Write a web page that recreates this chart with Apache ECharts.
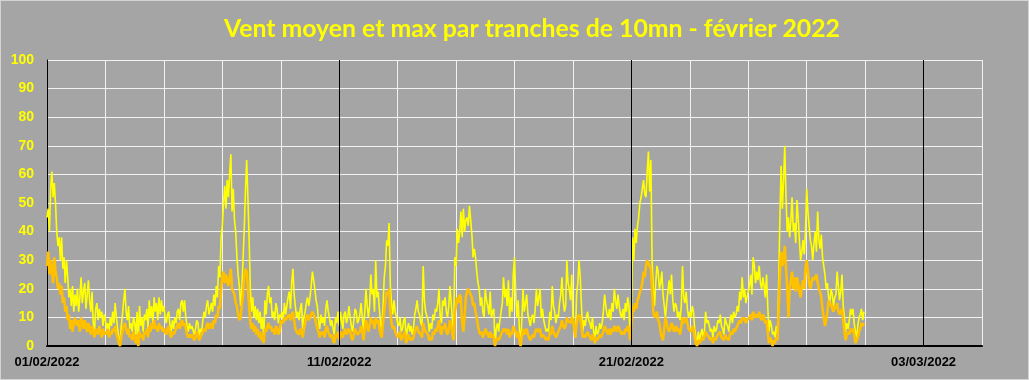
<!DOCTYPE html>
<html><head><meta charset="utf-8">
<script src="https://cdn.jsdelivr.net/npm/echarts@6/dist/echarts.min.js"></script>
<style>
html,body{margin:0;padding:0;background:#a5a5a5;}
#c{width:1029px;height:380px;box-sizing:border-box;border:1px solid #d4d4d4;}
</style></head><body><div id="c"></div>
<script>
// Title and axes
const chartTitle = 'Vent moyen et max par tranches de 10mn - février 2022';
const startYear = 2022, startMonth = 1, startDay = 1; // 01/02/2022
const xLabelDays = [0, 10, 20, 30];
const yTicks = [0,10,20,30,40,50,60,70,80,90,100];
const pointsPerDay = 24;

// Vent max (one row per day, hourly)
const maxWind = [
45,48,40,55,61,52,57,50,40,35,38,30,38,27,31,22,30,24,17,20,14,21,12,18,
14,20,12,17,24,15,19,22,13,18,23,16,12,19,8,5,13,15,9,13,10,12,7,11,
9,6,8,5,10,7,12,8,15,10,6,3,0,7,11,16,20,12,9,14,6,8,5,10,
8,4,12,2,14,7,10,5,11,9,13,6,16,10,14,8,17,12,15,9,17,11,16,12,
14,10,8,11,12,7,5,9,6,10,8,12,13,9,15,16,12,16,10,7,5,8,6,7,
7,4,6,9,8,3,6,5,9,12,10,14,16,11,13,15,12,18,14,21,17,28,24,38,
42,50,56,48,58,52,60,67,47,55,44,40,31,25,21,14,20,30,41,54,65,52,38,20,
12,17,10,14,9,13,8,12,6,10,2,16,11,18,21,15,17,10,12,9,15,13,8,11,
10,12,9,15,11,14,17,19,13,22,27,18,14,10,12,9,13,15,6,10,12,15,17,14,
17,21,26,23,20,16,14,9,6,11,8,10,7,13,16,12,10,7,9,6,4,10,8,12,
7,12,9,6,11,12,8,10,14,10,7,5,9,13,12,8,9,11,15,10,5,12,20,14,
10,14,25,18,20,12,30,17,19,13,8,5,14,24,28,37,35,43,21,15,11,16,12,10,
8,7,10,5,6,9,10,2,6,8,5,7,4,6,11,13,16,12,11,8,7,28,16,12,
12,9,5,8,6,11,9,13,12,15,20,10,8,16,14,17,12,10,14,21,15,9,5,31,
28,41,36,40,47,38,48,40,44,45,42,49,44,39,31,34,31,26,22,20,14,17,12,10,
20,16,14,11,19,10,12,13,0,6,8,5,9,12,15,24,17,20,14,23,10,17,12,25,
31,18,10,16,6,0,9,20,12,15,18,11,9,7,10,11,8,13,20,14,17,20,10,13,
9,7,5,6,5,12,9,21,14,12,8,11,10,15,18,24,16,12,14,30,22,20,16,25,
10,6,3,18,22,30,24,14,5,9,7,10,12,9,8,6,10,5,3,7,4,5,8,6,
8,12,18,14,11,10,13,9,15,12,20,16,13,18,14,11,10,13,9,15,12,17,14,3,
12,38,30,41,36,42,45,50,52,55,58,53,52,61,68,54,65,30,20,14,22,28,26,20,
22,26,18,14,10,15,19,23,18,25,16,12,15,14,10,12,9,14,28,17,15,19,13,10,
12,10,14,12,6,3,0,5,2,4,6,3,5,12,8,9,7,5,6,3,7,5,6,9,
8,11,7,6,4,10,8,7,5,9,11,8,12,10,11,14,12,19,16,24,17,20,15,17,
19,21,25,18,31,28,22,26,23,28,22,20,24,21,17,25,14,5,9,7,4,5,3,7,
4,22,45,63,48,58,70,52,40,45,38,44,52,40,43,36,51,45,37,30,33,37,32,40,
55,47,42,37,35,30,36,40,33,47,37,34,39,31,28,25,20,22,17,15,20,18,14,17,
18,26,21,16,19,25,14,10,5,8,6,9,13,11,13,8,5,3,7,10,11,13,9,12
];

// Vent moyen (one row per day, hourly)
const meanWind = [
28,33,25,30,27,22,31,26,24,20,22,18,21,15,17,12,14,9,11,6,9,5,8,10,
8,7,9,5,10,8,6,9,7,5,8,6,4,7,5,3,6,5,4,7,5,3,6,4,
5,4,6,3,5,4,6,5,7,4,3,1,0,3,5,7,8,6,4,6,3,4,2,5,
3,1,4,0,5,3,4,2,5,4,6,3,7,5,8,6,9,6,7,5,8,6,7,5,
6,5,4,6,7,4,3,5,4,5,6,7,8,6,8,9,7,8,6,4,3,4,3,4,
4,2,3,5,4,2,3,3,5,6,5,7,8,6,7,8,6,9,8,11,10,14,13,20,
24,26,22,25,23,21,24,27,20,19,18,15,14,11,9,10,14,18,24,27,26,20,14,8,
6,8,5,7,4,6,3,5,2,4,1,6,5,7,8,6,7,5,6,4,7,6,4,5,
8,9,8,10,9,10,10,11,9,11,12,9,6,5,5,4,6,5,3,6,8,10,11,9,
10,11,12,11,10,8,6,5,3,5,4,5,3,6,7,5,4,3,4,2,1,4,3,5,
2,5,4,3,5,6,4,5,6,5,3,2,4,6,5,4,4,5,7,5,2,6,9,7,
5,7,10,8,9,6,10,8,9,6,4,3,8,12,16,19,18,20,12,8,6,7,5,5,
3,4,5,2,3,4,5,1,3,4,2,3,2,3,5,6,7,5,5,4,3,8,6,5,
5,4,2,3,2,5,4,6,5,7,9,5,4,7,6,8,5,4,6,9,7,4,2,12,
14,17,15,18,17,8,5,10,17,19,20,19,18,17,14,15,12,10,7,5,4,5,3,4,
6,5,4,3,5,3,4,3,0,2,3,2,3,4,5,6,5,6,4,6,3,5,4,7,
7,5,3,5,2,0,3,6,4,5,6,4,3,2,3,4,3,5,6,5,5,6,3,4,
4,3,2,3,2,5,4,7,5,5,3,4,4,6,7,9,7,6,7,10,9,9,8,10,
9,6,3,8,10,11,10,7,3,4,3,4,5,4,3,2,4,3,1,3,2,3,4,3,
4,5,7,6,5,4,6,4,6,5,7,6,5,7,6,5,4,5,4,6,5,7,6,2,
8,14,12,15,13,16,17,19,20,22,26,24,28,30,29,28,27,20,12,10,11,12,9,8,
5,3,2,6,10,8,6,5,6,8,7,5,6,7,5,6,4,7,10,8,9,10,8,6,
6,5,7,6,3,1,0,2,1,2,3,2,2,5,4,4,3,2,3,1,3,2,3,4,
4,5,3,3,2,4,3,3,2,4,5,4,6,5,6,7,8,9,8,10,9,10,8,9,
9,10,11,9,12,11,10,11,10,12,10,9,11,10,8,9,5,1,3,2,0,2,1,3,
2,12,25,33,28,30,35,27,21,10,20,23,26,20,24,19,24,22,19,17,21,23,20,27,
30,26,22,20,22,24,23,24,25,22,20,19,17,13,10,7,9,12,16,14,15,13,12,14,
13,15,12,11,12,13,9,5,2,4,5,4,6,5,6,4,1,1,3,5,6,8,7,8
];

function dateLabel(d){
  const dt = new Date(startYear, startMonth, startDay + d);
  const p = n => String(n).padStart(2,'0');
  return p(dt.getDate()) + '/' + p(dt.getMonth()+1) + '/' + dt.getFullYear();
}
const toXY = arr => arr.map((v,i) => [i / pointsPerDay, v]);

const chart = echarts.init(document.getElementById('c'), null, {renderer:'canvas'});
chart.setOption({
  animation: false,
  backgroundColor: '#a5a5a5',
  title: {
    text: chartTitle, left: 218, top: 11,
    textStyle: {color:'#ffff00', fontSize:24.8, fontWeight:'bold', fontFamily:'Lato'}
  },
  grid: {left: 46, right: 46, top: 59, bottom: 33, containLabel: false},
  xAxis: {
    type: 'value', min: 0, max: 32, interval: 2,
    axisLine: {show:true, onZero:false, lineStyle:{color:'#000', width:2}},
    axisTick: {show:false},
    splitLine: {show:true, lineStyle:{color:'#f2f2f2', width:1}},
    axisLabel: {
      color:'#000', fontWeight:'bold', fontSize:13, fontFamily:'Liberation Sans, Arial', margin: 10,
      formatter: v => xLabelDays.includes(v) ? dateLabel(v) : ''
    }
  },
  yAxis: {
    type: 'value', min: yTicks[0], max: yTicks[yTicks.length-1], interval: 10,
    axisLine: {show:true, lineStyle:{color:'#000', width:1}},
    axisTick: {show:false},
    splitLine: {show:true, lineStyle:{color:'#f2f2f2', width:1}},
    axisLabel: {color:'#ffff00', fontWeight:'bold', fontSize:14, fontFamily:'Liberation Sans, Arial', margin: 13}
  },
  series: [
    {
      type:'line', z:1, data:[], silent:true,
      markLine: {
        silent:true, symbol:'none', label:{show:false},
        lineStyle:{color:'#000', width:1, type:'solid'},
        data: xLabelDays.filter(d => d > 0).map(d => ({xAxis:d}))
      }
    },
    {
      name:'Vent max', type:'line', data: toXY(maxWind), showSymbol:false, z:2,
      lineStyle:{color:'#ffff00', width:1.6}, itemStyle:{color:'#ffff00'}
    },
    {
      name:'Vent moyen', type:'line', data: toXY(meanWind), showSymbol:false, z:3,
      lineStyle:{color:'#ffc000', width:2.6}, itemStyle:{color:'#ffc000'}
    }
  ]
});
</script></body></html>
